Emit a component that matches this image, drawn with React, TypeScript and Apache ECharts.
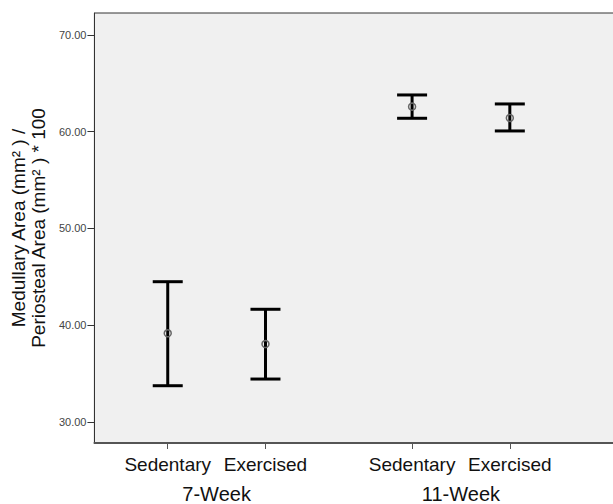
import React, { useEffect, useRef } from "react";
import * as echarts from "echarts";

// Data
const groups = ["7-Week", "11-Week"];
const conditions = ["Sedentary", "Exercised"];
const means = [39.17, 38.06, 62.59, 61.42];
const lower = [33.75, 34.44, 61.39, 60.08];
const upper = [44.5, 41.65, 63.8, 62.87];
const yTicks = [30, 40, 50, 60, 70];

// Layout: category slots (spacer slots give the gap between groups)
const SLOT_COUNT = 11;
const conditionSlots = [1, 3, 6, 8];
const groupSlots = [2, 7];

export default function App() {
  const ref = useRef<HTMLDivElement>(null);

  useEffect(() => {
    if (!ref.current) return;
    const chart = echarts.init(ref.current, undefined, { renderer: "svg" });

    const condCats: string[] = new Array(SLOT_COUNT).fill("");
    conditionSlots.forEach((s, i) => {
      condCats[s] = conditions[i % conditions.length];
    });
    const groupCats: string[] = new Array(SLOT_COUNT).fill("");
    groupSlots.forEach((s, i) => {
      groupCats[s] = groups[i];
    });

    const data = means.map((m, i) => [conditionSlots[i], lower[i], upper[i], m]);

    const font = "'Liberation Sans', Arial, sans-serif";

    chart.setOption({
      animation: false,
      backgroundColor: "#ffffff",
      grid: {
        left: 93,
        top: 13,
        right: 28,
        bottom: 61,
        show: true,
        backgroundColor: "#f0f0f0",
        borderColor: "#333333",
        borderWidth: 1,
      },
      xAxis: [
        {
          type: "category",
          data: condCats,
          position: "bottom",
          axisLine: { show: true, lineStyle: { color: "#555555", width: 2 } },
          axisTick: {
            show: true,
            alignWithLabel: true,
            length: 6,
            interval: (_i: number, v: string) => v !== "",
            lineStyle: { color: "#555555", width: 1 },
          },
          axisLabel: {
            interval: 0,
            margin: 12,
            color: "#111111",
            fontFamily: font,
            fontSize: 19,
          },
          splitLine: { show: false },
        },
        {
          type: "category",
          data: groupCats,
          position: "bottom",
          axisLine: { show: false },
          axisTick: { show: false },
          axisLabel: {
            interval: 0,
            margin: 41,
            color: "#111111",
            fontFamily: font,
            fontSize: 20,
          },
          splitLine: { show: false },
        },
      ],
      yAxis: {
        type: "value",
        min: 27.83,
        max: 72.27,
        name: "Medullary Area (mm² ) /\nPeriosteal Area (mm² ) * 100",
        nameLocation: "middle",
        nameRotate: 90,
        nameGap: 42,
        nameTextStyle: {
          color: "#111111",
          fontFamily: font,
          fontSize: 19,
          lineHeight: 20,
        },
        axisLine: { show: true, lineStyle: { color: "#333333", width: 1 } },
        axisTick: {
          show: true,
          length: 7,
          customValues: yTicks,
          lineStyle: { color: "#333333", width: 1 },
        },
        axisLabel: {
          customValues: yTicks,
          margin: 8,
          color: "#444444",
          fontFamily: font,
          fontSize: 11,
          formatter: (v: number) => v.toFixed(2),
        },
        splitLine: { show: false },
      },
      series: [
        {
          type: "custom",
          xAxisIndex: 0,
          data,
          encode: { x: 0, y: [1, 2, 3] },
          renderItem: (_params: any, api: any) => {
            const xi = api.value(0);
            const lo = api.coord([xi, api.value(1)]);
            const hi = api.coord([xi, api.value(2)]);
            const mid = api.coord([xi, api.value(3)]);
            const x = lo[0];
            const half = 15;
            const barStyle = { stroke: "#000000", lineWidth: 3 };
            return {
              type: "group",
              children: [
                { type: "line", shape: { x1: x, y1: hi[1], x2: x, y2: lo[1] }, style: barStyle },
                { type: "line", shape: { x1: x - half, y1: hi[1], x2: x + half, y2: hi[1] }, style: barStyle },
                { type: "line", shape: { x1: x - half, y1: lo[1], x2: x + half, y2: lo[1] }, style: barStyle },
                {
                  type: "circle",
                  shape: { cx: x, cy: mid[1], r: 3.5 },
                  style: { fill: "none", stroke: "#666666", lineWidth: 1.5 },
                },
              ],
            };
          },
        },
      ],
    });

    return () => chart.dispose();
  }, []);

  return (
    <div style={{ width: 613, height: 504, position: "absolute", left: 0, top: 0, overflow: "hidden" }}>
      <div ref={ref} style={{ width: 660, height: 504 }} />
    </div>
  );
}
